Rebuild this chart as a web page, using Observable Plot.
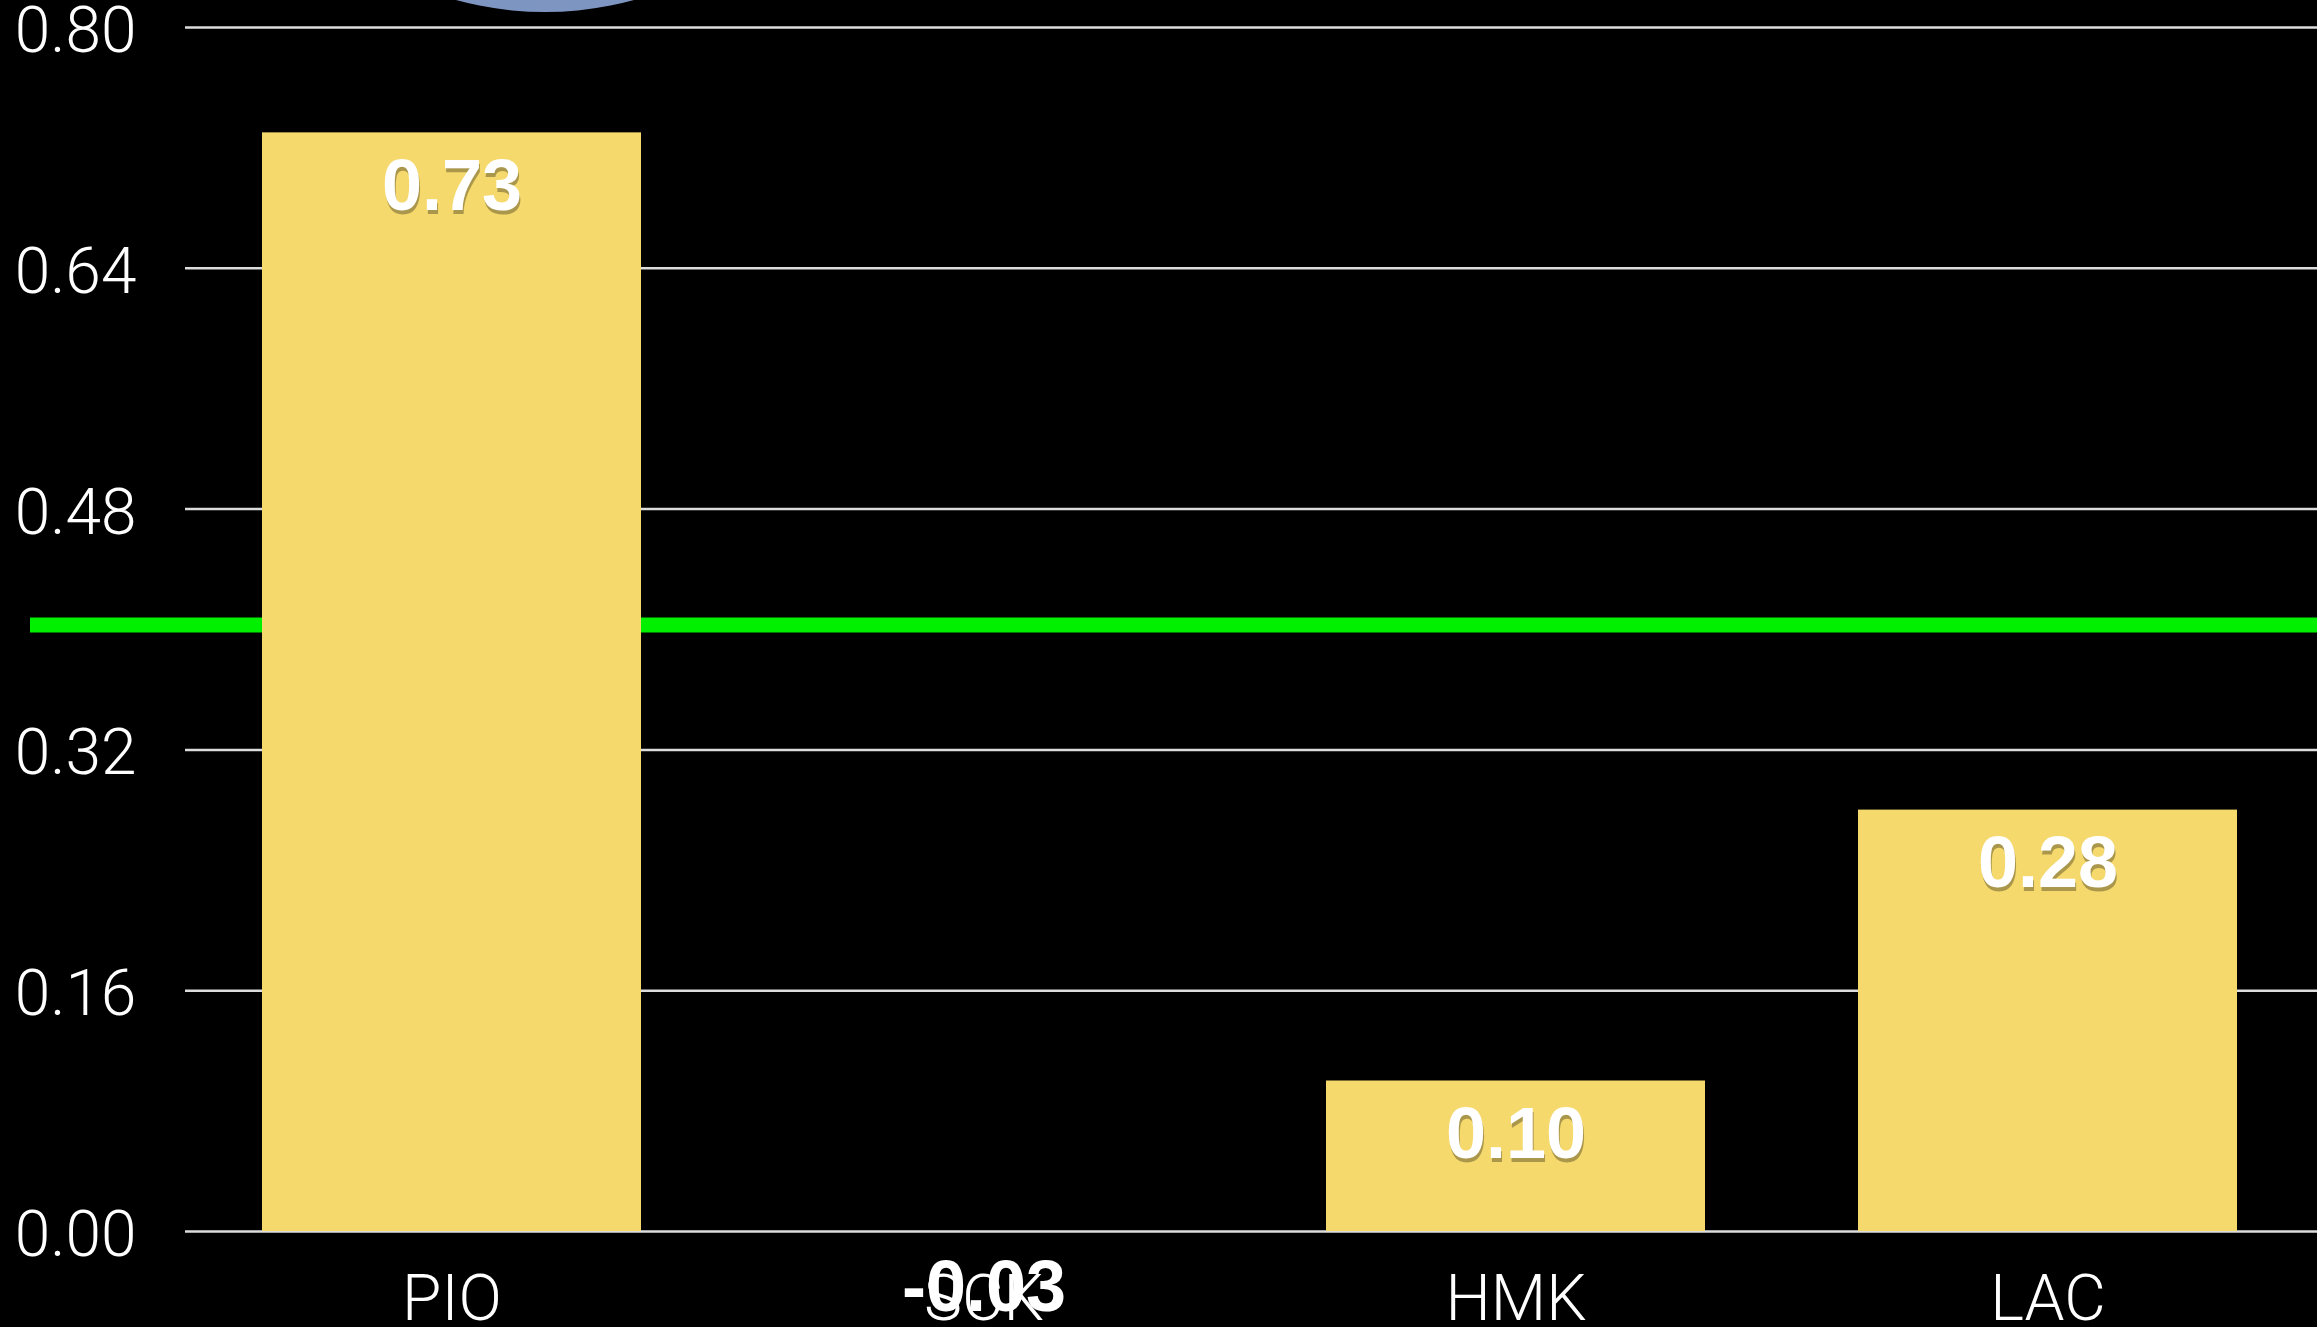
<!DOCTYPE html>
<html>
<head>
<meta charset="utf-8">
<script src="https://cdn.jsdelivr.net/npm/d3@7"></script>
<script src="https://cdn.jsdelivr.net/npm/@observablehq/plot@0.6"></script>
<style>
  html, body { margin: 0; padding: 0; background: #000; overflow: hidden; }
  #wrap { position: relative; width: 2317px; height: 1327px; background: #000; }
  #deco { position: absolute; left: 209px; top: -660px; width: 672px; height: 672px; border-radius: 50%;
          background: radial-gradient(circle at 50% 80%, #8198c4 0%, #7890bd 60%, #6f88b6 100%); }
  #chart { position: absolute; left: 0; top: 0; }
</style>
</head>
<body>
<div id="wrap"><div id="deco"></div><div id="chart"></div></div>
<script>
const categories = ["PIO", "SCK", "HMK", "LAC"];
const values = [0.73, -0.03, 0.10, 0.28];
const yTicks = [0, 0.16, 0.32, 0.48, 0.64, 0.80];
const referenceLevel = 0.403;

const data = categories.map((c, i) => ({cat: c, value: values[i]}));
const pos = data.filter(d => d.value >= 0);
const neg = data.filter(d => d.value < 0);

const fmt = v => d3.format(".2f")(v).replace("\u2212", "-");
const labelFont = "'Liberation Sans', Arial, Helvetica, sans-serif";
const lightFont = "Roboto, 'Open Sans', Lato, sans-serif";

const chart = Plot.plot({
  width: 2317,
  height: 1327,
  marginTop: 27,
  marginBottom: 96,
  marginLeft: 185,
  marginRight: 0,
  style: {background: "transparent", color: "white", overflow: "visible"},
  x: {type: "band", domain: categories, range: [260, 2239], paddingInner: 0.287, paddingOuter: 0, label: null},
  y: {domain: [0, 0.8], label: null},
  marks: [
    Plot.ruleY(yTicks, {stroke: "#dcdcdc", strokeWidth: 2.5}),
    Plot.ruleY([referenceLevel], {stroke: "#00f000", strokeWidth: 15, insetLeft: -155}),
    Plot.barY(data, {x: "cat", y: "value", fill: "#f5d96c", clip: true}),
    Plot.axisY({ticks: yTicks, tickSize: 0, tickPadding: 49, tickFormat: fmt, fontSize: 64, dy: 4,
                fontWeight: 300, fontFamily: lightFont, fill: "white", label: null}),
    Plot.axisX({tickSize: 0, tickPadding: 43, fontSize: 64, fontWeight: 300,
                fontFamily: lightFont, fill: "white", label: null}),
    Plot.text(pos, {x: "cat", y: "value", text: d => fmt(d.value), dy: 58, dx: 1,
                    fill: "rgba(0,0,0,0.3)", fontSize: 72, fontWeight: "bold", fontFamily: labelFont}),
    Plot.text(pos, {x: "cat", y: "value", text: d => fmt(d.value), dy: 54,
                    fill: "white", fontSize: 72, fontWeight: "bold", fontFamily: labelFont}),
    Plot.text(neg, {x: "cat", y: "value", text: d => fmt(d.value), dy: 11,
                    fill: "white", fontSize: 72, fontWeight: "bold", fontFamily: labelFont})
  ]
});
document.getElementById("chart").appendChild(chart);
</script>
</body>
</html>
